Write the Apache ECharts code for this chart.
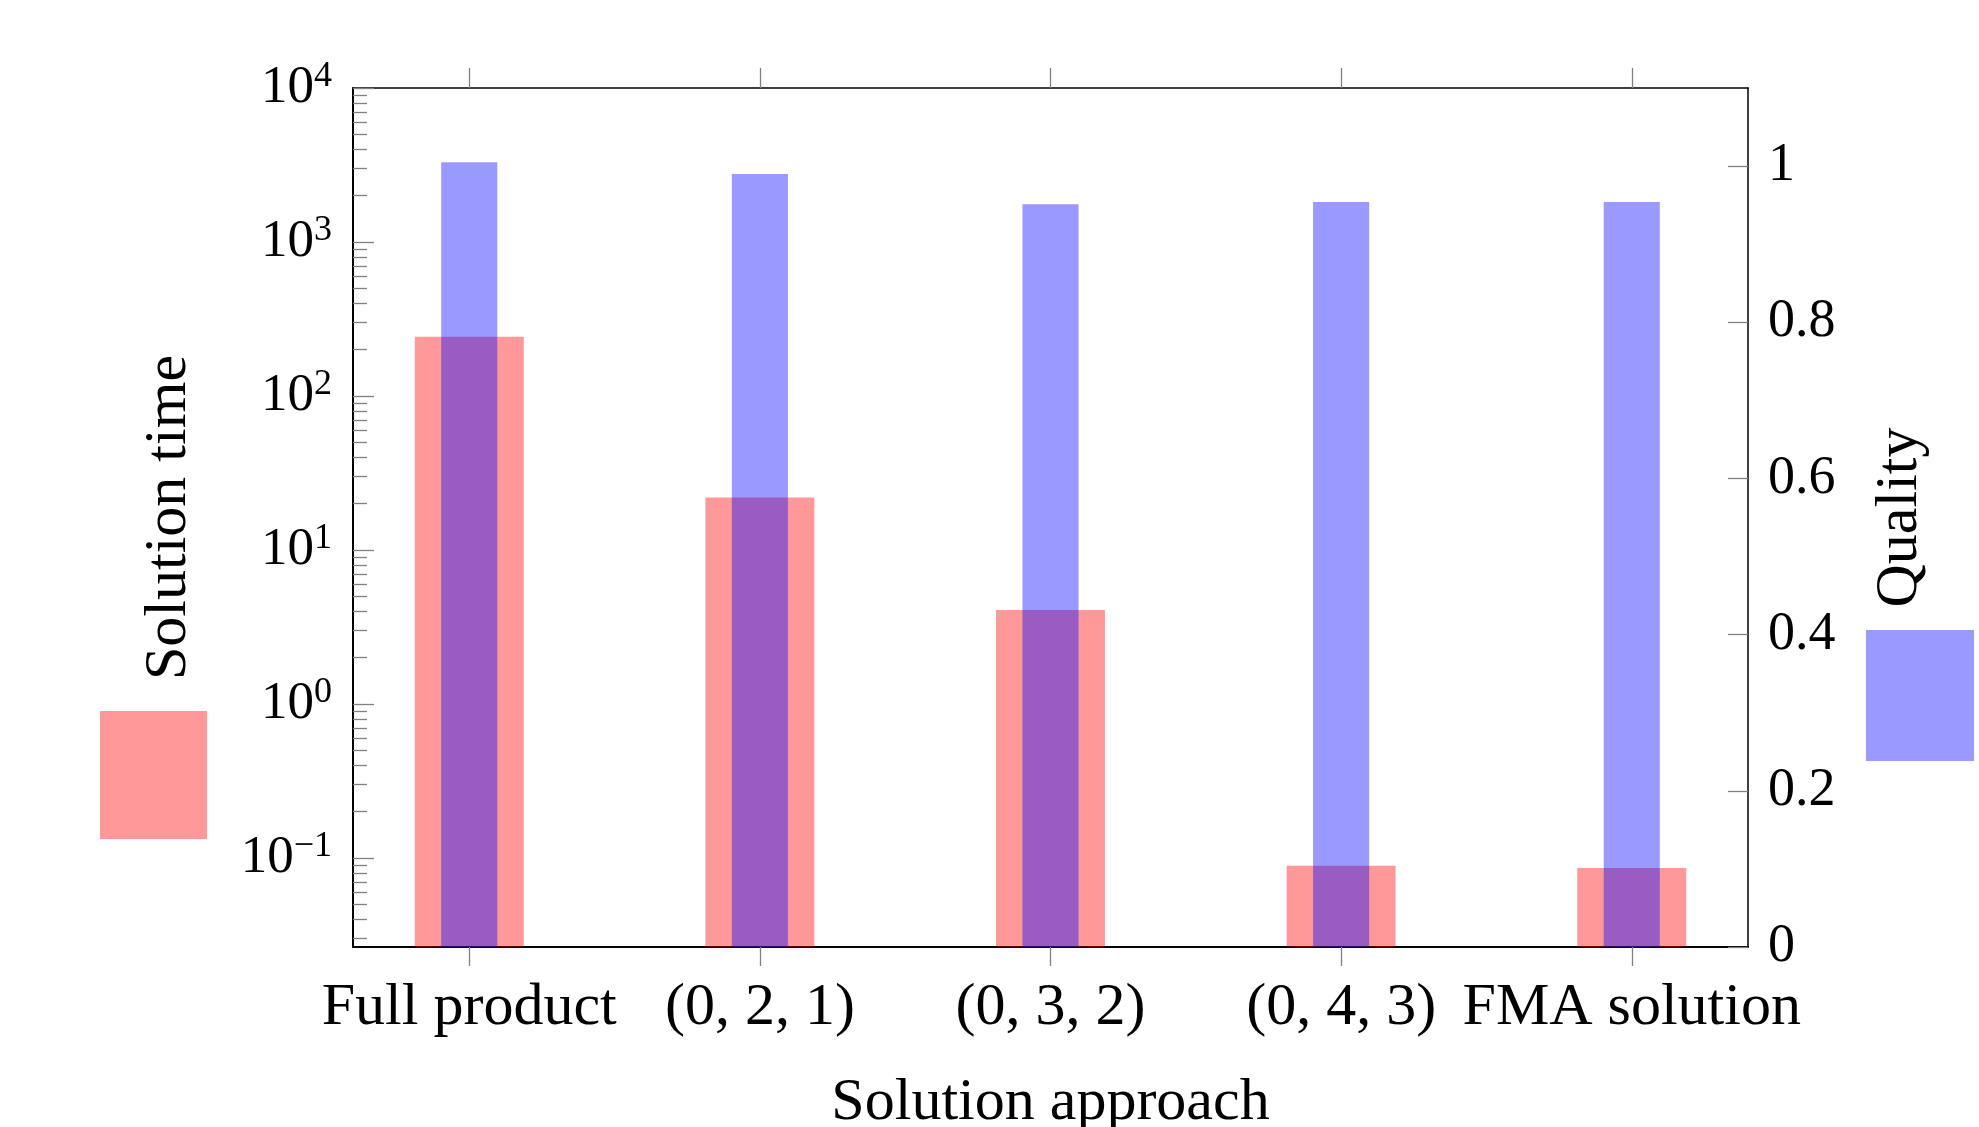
<!DOCTYPE html>
<html>
<head>
<meta charset="utf-8">
<script src="https://cdn.jsdelivr.net/npm/echarts@6/dist/echarts.min.js"></script>
<style>
html,body{margin:0;padding:0;background:#fff;}
#chart{width:1979px;height:1127px;}
</style>
</head>
<body>
<div id="chart"></div>
<script>
// ---- data ----
const categories = ['Full product', '(0, 2, 1)', '(0, 3, 2)', '(0, 4, 3)', 'FMA solution'];
const categoryPositions = [0, 1, 2, 3, 4];
const solutionTime = [242, 21.9, 4.08, 0.089, 0.086];
const quality = [1.005, 0.99, 0.951, 0.954, 0.954];
const timeMajorTicks = [0.1, 1, 10, 100, 1000, 10000];
const timeMinorTicks = [
  0.03, 0.04, 0.05, 0.06, 0.07, 0.08, 0.09,
  0.2, 0.3, 0.4, 0.5, 0.6, 0.7, 0.8, 0.9,
  2, 3, 4, 5, 6, 7, 8, 9,
  20, 30, 40, 50, 60, 70, 80, 90,
  200, 300, 400, 500, 600, 700, 800, 900,
  2000, 3000, 4000, 5000, 6000, 7000, 8000, 9000
];
const qualityTicks = [0, 0.2, 0.4, 0.6, 0.8, 1];
const timeAxisMin = 0.0264;
const timeAxisMax = 10000;
const qualityMin = 0;
const qualityMax = 1.1;
const xMin = -0.4;
const xMax = 4.4;

// ---- style ----
const FONT = '"Liberation Serif", "DejaVu Serif", serif';
const RED = 'rgba(255,0,0,0.4)';
const BLUE = 'rgba(0,0,255,0.4)';
const TICK = '#808080';
const redWidth = 0.375;
const blueWidth = 0.193;

function barRenderer(widthUnits, axisBottomValue) {
  return function (params, api) {
    const x = api.value(0);
    const v = api.value(1);
    const topL = api.coord([x - widthUnits / 2, v]);
    const topR = api.coord([x + widthUnits / 2, v]);
    const bottom = api.coord([x, axisBottomValue]);
    return {
      type: 'rect',
      shape: { x: topL[0], y: topL[1], width: topR[0] - topL[0], height: bottom[1] - topL[1] },
      style: api.style()
    };
  };
}

function powLabel(value) {
  const e = Math.round(Math.log10(value));
  const s = e < 0 ? '\u2212' + (-e) : String(e);
  return '{b|10}{s|' + s + '}';
}

const chart = echarts.init(document.getElementById('chart'), null, { renderer: 'canvas' });

const option = {
  backgroundColor: '#ffffff',
  animation: false,
  textStyle: { fontFamily: FONT, color: '#000' },
  grid: { left: 353, top: 88, width: 1395, height: 859, outerBoundsMode: 'none', containLabel: false },
  legend: [
    {
      left: 100, top: 711, padding: 0, orient: 'vertical',
      itemWidth: 107, itemHeight: 128, icon: 'rect', selectedMode: false,
      formatter: () => '',
      data: [{ name: 'Solution time', itemStyle: { color: RED } }]
    },
    {
      left: 1866, top: 630, padding: 0, orient: 'vertical',
      itemWidth: 108, itemHeight: 131, icon: 'rect', selectedMode: false,
      formatter: () => '',
      data: [{ name: 'Quality', itemStyle: { color: BLUE } }]
    }
  ],
  xAxis: [
    {
      type: 'value', position: 'bottom', min: xMin, max: xMax,
      name: 'Solution approach', nameLocation: 'middle', nameGap: 126,
      nameTextStyle: { fontFamily: FONT, fontSize: 60, color: '#000' },
      axisLine: { show: true, onZero: false, lineStyle: { color: '#000', width: 2 } },
      axisTick: { show: true, inside: false, length: 19, customValues: categoryPositions, lineStyle: { color: TICK, width: 1.3 } },
      axisLabel: {
        show: true, margin: 31, customValues: categoryPositions,
        fontFamily: FONT, fontSize: 60, color: '#000',
        formatter: (v) => categories[Math.round(v)]
      },
      splitLine: { show: false }
    },
    {
      type: 'value', position: 'top', min: xMin, max: xMax,
      axisLine: { show: true, onZero: false, lineStyle: { color: '#000', width: 1.5 } },
      axisTick: { show: true, inside: false, length: 20, customValues: categoryPositions, lineStyle: { color: TICK, width: 1.3 } },
      axisLabel: { show: false },
      splitLine: { show: false }
    }
  ],
  yAxis: [
    {
      type: 'log', logBase: 10, position: 'left', min: timeAxisMin, max: timeAxisMax,
      name: 'Solution time', nameLocation: 'middle', nameGap: 154,
      nameTextStyle: { fontFamily: FONT, fontSize: 60, color: '#000' },
      axisLine: { show: true, onZero: false, lineStyle: { color: '#000', width: 2 } },
      axisTick: { show: true, inside: true, length: 21, customValues: timeMajorTicks, lineStyle: { color: TICK, width: 1.3 } },
      axisLabel: {
        show: true, margin: 21, customValues: timeMajorTicks,
        formatter: powLabel,
        rich: {
          b: { fontFamily: FONT, fontSize: 53, color: '#000', lineHeight: 58 },
          s: { fontFamily: FONT, fontSize: 36, color: '#000', verticalAlign: 'top', lineHeight: 26 }
        }
      },
      splitLine: { show: false }
    },
    {
      type: 'log', logBase: 10, position: 'left', min: timeAxisMin, max: timeAxisMax,
      axisLine: { show: false, onZero: false },
      axisTick: { show: true, inside: true, length: 14, customValues: timeMinorTicks, lineStyle: { color: TICK, width: 1.3 } },
      axisLabel: { show: false },
      splitLine: { show: false }
    },
    {
      type: 'value', position: 'right', min: qualityMin, max: qualityMax,
      name: 'Quality', nameLocation: 'middle', nameGap: 122,
      nameTextStyle: { fontFamily: FONT, fontSize: 60, color: '#000' },
      axisLine: { show: true, onZero: false, lineStyle: { color: '#000', width: 1.5 } },
      axisTick: { show: true, inside: true, length: 20, customValues: qualityTicks, lineStyle: { color: TICK, width: 1.3 } },
      axisLabel: {
        show: true, margin: 20, customValues: qualityTicks,
        fontFamily: FONT, fontSize: 54, color: '#000',
        formatter: (v) => String(Math.round(v * 10) / 10)
      },
      splitLine: { show: false }
    }
  ],
  series: [
    {
      name: 'Solution time', type: 'custom', xAxisIndex: 0, yAxisIndex: 0,
      renderItem: barRenderer(redWidth, timeAxisMin),
      itemStyle: { color: RED },
      encode: { x: 0, y: 1 },
      data: solutionTime.map((v, i) => [categoryPositions[i], v]),
      z: 2
    },
    {
      name: 'Quality', type: 'custom', xAxisIndex: 0, yAxisIndex: 2,
      renderItem: barRenderer(blueWidth, qualityMin),
      itemStyle: { color: BLUE },
      encode: { x: 0, y: 1 },
      data: quality.map((v, i) => [categoryPositions[i], v]),
      z: 3
    }
  ]
};

chart.setOption(option);
</script>
</body>
</html>
